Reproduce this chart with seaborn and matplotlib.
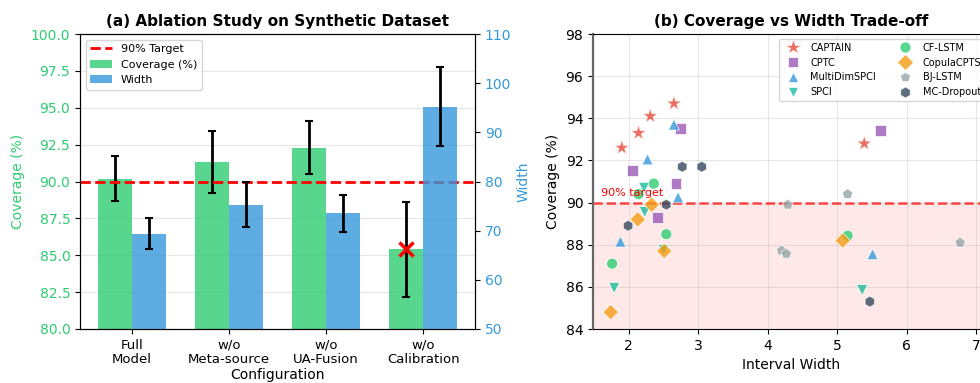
import matplotlib
matplotlib.use("Agg")
import matplotlib.pyplot as plt
import seaborn as sns
import numpy as np
import pandas as pd
from matplotlib.lines import Line2D
from matplotlib.patches import Patch

# ---------------- data: panel (a) ----------------
configs = ['Full\nModel', 'w/o\nMeta-source', 'w/o\nUA-Fusion', 'w/o\nCalibration']
coverage = [90.2, 91.3, 92.3, 85.4]
coverage_err = [1.5, 2.1, 1.8, 3.2]
widths = [69.4, 75.3, 73.5, 95.2]
widths_err = [3.2, 4.5, 3.8, 8.0]

# ---------------- data: panel (b) ----------------
methods = ['CAPTAIN', 'CPTC', 'MultiDimSPCI', 'SPCI',
           'CF-LSTM', 'CopulaCPTS', 'BJ-LSTM', 'MC-Dropout']
captain_w = [1.90, 2.14, 2.31, 2.65, 5.39]
captain_c = [92.6, 93.3, 94.1, 94.7, 92.8]
cptc_w = [2.05, 2.75, 2.68, 2.41, 5.63]
cptc_c = [91.5, 93.5, 90.9, 89.3, 93.4]
mds_w = [2.65, 2.27, 2.71, 1.88, 5.51]
mds_c = [93.7, 92.05, 90.25, 88.15, 87.55]
spci_w = [2.22, 2.23, 1.79, 5.36, 2.50]
spci_c = [90.7, 89.55, 85.95, 85.85, 87.75]
cf_w = [2.36, 2.14, 2.54, 1.76, 5.15]
cf_c = [90.9, 90.4, 88.5, 87.1, 88.43]
cop_w = [2.33, 2.13, 2.51, 1.74, 5.08]
cop_c = [89.9, 89.2, 87.7, 84.8, 88.2]
bj_w = [4.29, 5.15, 4.20, 4.27, 6.77]
bj_c = [89.9, 90.4, 87.72, 87.57, 88.1]
mc_w = [2.77, 3.05, 2.54, 1.99, 5.47]
mc_c = [91.7, 91.7, 89.9, 88.9, 85.3]

method_w = [captain_w, cptc_w, mds_w, spci_w, cf_w, cop_w, bj_w, mc_w]
method_c = [captain_c, cptc_c, mds_c, spci_c, cf_c, cop_c, bj_c, mc_c]

palette = {'CAPTAIN': '#e74c3c', 'CPTC': '#9b59b6', 'MultiDimSPCI': '#3498db',
           'SPCI': '#1abc9c', 'CF-LSTM': '#2ecc71', 'CopulaCPTS': '#f39c12',
           'BJ-LSTM': '#95a5a6', 'MC-Dropout': '#34495e'}
markers = {'CAPTAIN': '*', 'CPTC': 's', 'MultiDimSPCI': '^', 'SPCI': 'v',
           'CF-LSTM': 'o', 'CopulaCPTS': 'D', 'BJ-LSTM': 'p', 'MC-Dropout': 'h'}
sizes = {m: 62 for m in methods}
sizes['CAPTAIN'] = 130

GREEN = '#2ecc71'
BLUE = '#3498db'

plt.rcParams['font.family'] = ['DejaVu Sans']

fig = plt.figure(figsize=(9.8, 3.83), dpi=100)
W, H = 980.0, 383.0
ax1 = fig.add_axes([80 / W, 54 / H, 395 / W, 295 / H])
ax2 = ax1.twinx()
ax3 = fig.add_axes([593 / W, 54 / H, 397 / W, 295 / H])

# ---------------- panel (a) ----------------
pos = np.arange(len(configs))
bw = 0.35
df_cov = pd.DataFrame({'x': pos - bw / 2, 'val': coverage})
df_wid = pd.DataFrame({'x': pos + bw / 2, 'val': widths})

sns.barplot(data=df_cov, x='x', y='val', native_scale=True, width=bw,
            color=GREEN, alpha=0.8, saturation=1, errorbar=None, ax=ax1, zorder=2)
ax1.errorbar(pos - bw / 2, coverage, yerr=coverage_err, fmt='none',
             ecolor='black', elinewidth=2, capsize=3, capthick=1.5, zorder=3)
ax1.axhline(90, color='red', linestyle='--', linewidth=2, zorder=4)
ax1.plot([pos[3] - bw / 2], [coverage[3]], marker='x', color='red',
         markersize=10, markeredgewidth=2.5, linestyle='none', zorder=5)

sns.barplot(data=df_wid, x='x', y='val', native_scale=True, width=bw,
            color=BLUE, alpha=0.8, saturation=1, errorbar=None, ax=ax2, zorder=2)
ax2.errorbar(pos + bw / 2, widths, yerr=widths_err, fmt='none',
             ecolor='black', elinewidth=2, capsize=3, capthick=1.5, zorder=3)

ax1.set_ylim(80, 100)
ax1.set_yticks(np.arange(80, 100.1, 2.5))
ax2.set_ylim(50, 110)
ax2.set_yticks(np.arange(50, 111, 10))
ax1.set_xlim(-0.535, 3.535)
ax1.set_xticks(pos)
ax1.set_xticklabels(configs, linespacing=1.1)
ax1.set_xlabel('Configuration', fontsize=10, labelpad=2)
ax1.set_ylabel('Coverage (%)', color=GREEN, fontsize=10)
ax2.set_ylabel('Width', color=BLUE, fontsize=10)
ax2.set_xlabel('')
ax1.tick_params(axis='y', labelcolor=GREEN, labelsize=10)
ax2.tick_params(axis='y', labelcolor=BLUE, labelsize=10)
ax1.tick_params(axis='x', labelsize=9.5)
ax1.yaxis.grid(True, color='#b0b0b0', alpha=0.3)
ax1.xaxis.grid(False)
ax1.set_axisbelow(True)
ax1.set_title('(a) Ablation Study on Synthetic Dataset', fontsize=11,
              fontweight='bold')

handles = [Line2D([0], [0], color='red', linestyle='--', linewidth=2),
           Patch(facecolor=GREEN, alpha=0.8),
           Patch(facecolor=BLUE, alpha=0.8)]
ax2.legend(handles, ['90% Target', 'Coverage (%)', 'Width'],
           loc='upper left', fontsize=8)

# ---------------- panel (b) ----------------
rows = []
for m, ws, cs in zip(methods, method_w, method_c):
    for w_, c_ in zip(ws, cs):
        rows.append({'method': m, 'width': w_, 'coverage': c_})
df_sc = pd.DataFrame(rows)

ax3.axhspan(84, 90, color='red', alpha=0.09, linewidth=0, zorder=0)
ax3.axhline(90, color='red', linestyle='--', linewidth=1.8, alpha=0.7, zorder=1)
sns.scatterplot(data=df_sc, x='width', y='coverage', hue='method',
                style='method', size='method', hue_order=methods,
                style_order=methods, size_order=methods,
                palette=palette, markers=markers, sizes=sizes,
                alpha=0.8, edgecolor='white', linewidth=0.6, ax=ax3, zorder=3)
ax3.text(1.6, 90.3, '90% target', color='red', fontsize=8, va='baseline')
ax3.set_xlim(1.485, 7.2)
ax3.set_ylim(84, 98)
ax3.set_yticks(np.arange(84, 98.1, 2))
ax3.set_xticks(np.arange(2, 8, 1))
ax3.grid(True, color='#b0b0b0', alpha=0.3)
ax3.set_axisbelow(True)
ax3.set_xlabel('Interval Width', fontsize=10)
ax3.set_ylabel('Coverage (%)', fontsize=10)
ax3.tick_params(labelsize=10)
ax3.spines['left'].set_color('#666666')
ax3.spines['left'].set_linewidth(1.6)
ax3.set_title('(b) Coverage vs Width Trade-off', fontsize=11, fontweight='bold')
h, l = ax3.get_legend_handles_labels()
ax3.legend(h, l, ncol=2, loc='upper right', fontsize=7)

fig.savefig('out.png', dpi=100)
